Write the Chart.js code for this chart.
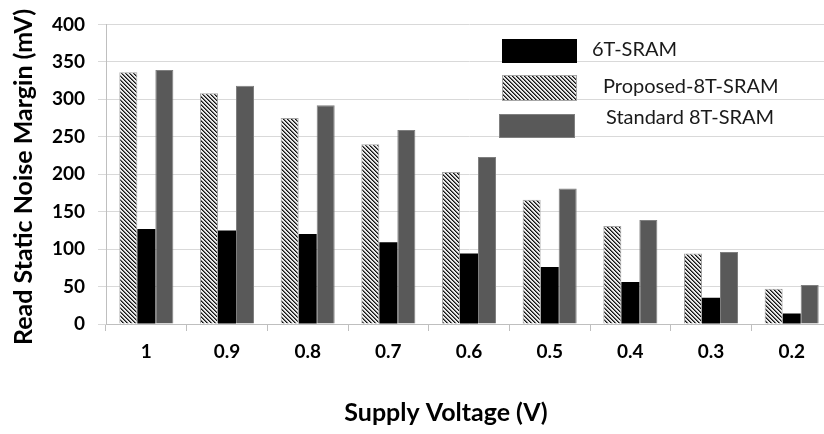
<!DOCTYPE html>
<html>
<head>
<meta charset="utf-8">
<script src="https://cdn.jsdelivr.net/npm/chart.js@4.4.1/dist/chart.umd.min.js"></script>
<style>
html,body{margin:0;padding:0;background:#fff;overflow:hidden;}
#wrap{width:850px;height:434px;}
</style>
</head>
<body>
<div id="wrap"><canvas id="c" width="850" height="434"></canvas></div>
<script>
const categories = ['1','0.9','0.8','0.7','0.6','0.5','0.4','0.3','0.2'];
const proposed8T = [336, 308, 275, 240, 203, 166, 131, 94, 47];
const sram6T = [127, 125, 120, 109, 94, 76, 56, 35, 14];
const standard8T = [339, 318, 292, 259, 223, 181, 139, 96, 52];
const yTicks = [0, 50, 100, 150, 200, 250, 300, 350, 400];
const seriesNames = ['Proposed-8T-SRAM', '6T-SRAM', 'Standard 8T-SRAM'];
const legendOrder = ['6T-SRAM', 'Proposed-8T-SRAM', 'Standard 8T-SRAM'];
const xTitle = 'Supply Voltage (V)';
const yTitle = 'Read Static Noise Margin (mV)';

function makeHatch() {
  const s = 4;
  const pc = document.createElement('canvas');
  pc.width = s; pc.height = s;
  const g = pc.getContext('2d');
  const img = g.createImageData(s, s);
  for (let y = 0; y < s; y++) {
    for (let x = 0; x < s; x++) {
      const d = ((x - y) % s + s) % s;
      let v = 235;
      if (d === 0) v = 20;
      else if (d === 1) v = 110;
      const i = (y * s + x) * 4;
      img.data[i] = v; img.data[i+1] = v; img.data[i+2] = v; img.data[i+3] = 255;
    }
  }
  g.putImageData(img, 0, 0);
  return g.createPattern(pc, 'repeat');
}
const ctx = document.getElementById('c').getContext('2d');
const hatch = makeHatch();

const legendPlugin = {
  id: 'customLegend',
  afterDraw(chart) {
    const c = chart.ctx;
    const ds = chart.data.datasets;
    const boxes = [
      {x: 502, y: 39, w: 75, h: 24, tx: 592, ty: 56},
      {x: 502, y: 75, w: 75, h: 26, tx: 603, ty: 92.5},
      {x: 499, y: 114, w: 76, h: 24, tx: 606, ty: 124}
    ];
    c.save();
    legendOrder.forEach((name, i) => {
      const d = ds.find(k => k.label === name);
      const b = boxes[i];
      c.fillStyle = d.backgroundColor;
      c.fillRect(b.x, b.y, b.w, b.h);
      if (d.borderWidth) {
        c.strokeStyle = d.borderColor; c.lineWidth = 1;
        c.strokeRect(b.x + 0.5, b.y + 0.5, b.w - 1, b.h - 1);
      }
      c.fillStyle = '#1a1a1a';
      c.font = '20px Lato';
      c.textBaseline = 'alphabetic';
      c.textAlign = 'left';
      c.fillText(name, b.tx, b.ty);
    });
    c.font = 'bold 25px Lato';
    c.fillStyle = '#000';
    c.textAlign = 'center';
    c.textBaseline = 'alphabetic';
    c.fillText(xTitle, 446, 421);
    c.translate(32, 177);
    c.rotate(-Math.PI / 2);
    c.fillText(yTitle, 0, 0);
    c.restore();
  }
};

new Chart(ctx, {
  type: 'bar',
  data: {
    labels: categories,
    datasets: [
      {label: seriesNames[0], data: proposed8T, backgroundColor: hatch, borderColor: '#a6a6a6', borderWidth: 1},
      {label: seriesNames[1], data: sram6T, backgroundColor: '#000000', borderWidth: 0},
      {label: seriesNames[2], data: standard8T, backgroundColor: '#595959', borderColor: '#7f7f7f', borderWidth: 1}
    ]
  },
  options: {
    responsive: false,
    animation: false,
    devicePixelRatio: 1,
    layout: {padding: {top: 12, right: 18, left: 0, bottom: 0}},
    datasets: {bar: {categoryPercentage: 0.67, barPercentage: 1.0}},
    plugins: {legend: {display: false}, tooltip: {enabled: false}},
    scales: {
      x: {
        grid: {display: true, offset: true, drawOnChartArea: false, tickLength: 7, color: '#bfbfbf'},
        border: {color: '#bfbfbf'},
        ticks: {color: '#000', font: {family: 'Lato', weight: 'bold', size: 19}, padding: 9, maxRotation: 0},
        afterFit(s) { s.height = 110; }
      },
      y: {
        min: 0, max: 400,
        afterBuildTicks(s) { s.ticks = yTicks.map(v => ({value: v})); },
        grid: {color: '#d9d9d9', tickLength: 8},
        border: {color: '#bfbfbf'},
        ticks: {color: '#000', font: {family: 'Lato', weight: 'bold', size: 19}, padding: 13},
        afterFit(s) { s.width = 106; }
      }
    }
  },
  plugins: [legendPlugin]
});
</script>
</body>
</html>
